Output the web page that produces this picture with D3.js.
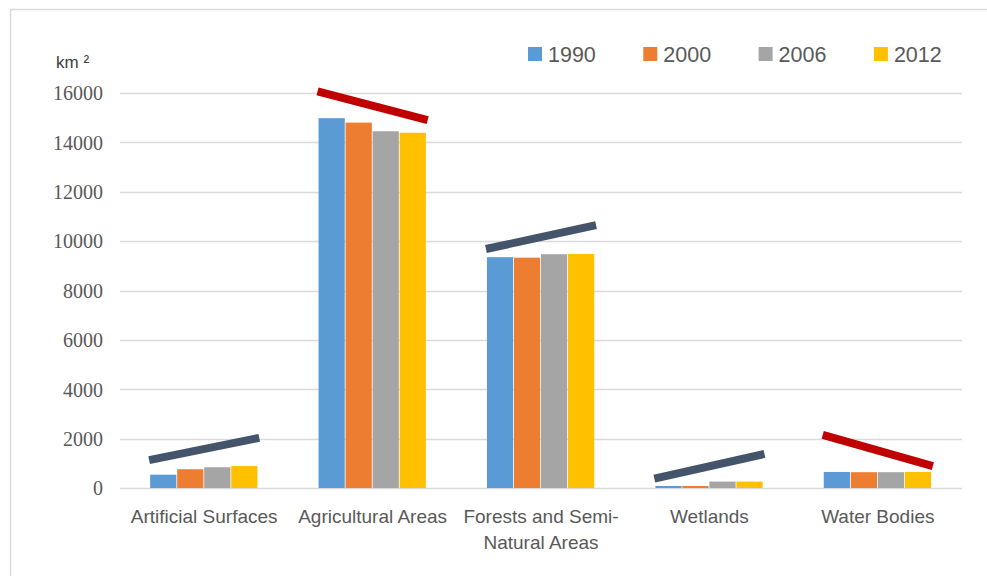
<!DOCTYPE html>
<html><head><meta charset="utf-8">
<script src="https://cdn.jsdelivr.net/npm/d3@7"></script>
<style>
html,body{margin:0;padding:0;background:#fff;}
svg{display:block;}
</style></head>
<body>
<svg id="chart" width="987" height="576"></svg>
<script>
const categories = ["Artificial Surfaces", "Agricultural Areas", "Forests and Semi-Natural Areas", "Wetlands", "Water Bodies"];
const categoryLines = [["Artificial Surfaces"], ["Agricultural Areas"], ["Forests and Semi-", "Natural Areas"], ["Wetlands"], ["Water Bodies"]];
const years = ["1990", "2000", "2006", "2012"];
const values1990 = [540, 14980, 9350, 80, 650];
const values2000 = [760, 14800, 9330, 80, 640];
const values2006 = [840, 14450, 9470, 260, 640];
const values2012 = [890, 14390, 9480, 260, 650];
const trendStart = [1130, 16070, 9680, 380, 2150];
const trendEnd = [2030, 14900, 10650, 1380, 890];
const yTicks = [0, 2000, 4000, 6000, 8000, 10000, 12000, 14000, 16000];
const yUnit = "km ²";
const colors = ["#5B9BD5", "#ED7D31", "#A5A5A5", "#FFC000"];

const series = [values1990, values2000, values2006, values2012];
const svg = d3.select("#chart");
const sans = "'Liberation Sans', Arial, sans-serif";

// outer border
svg.append("rect").attr("x", 10.5).attr("y", 9.5).attr("width", 990).attr("height", 600)
  .attr("fill", "none").attr("stroke", "#D9D9D9").attr("stroke-width", 1.5);

const x0 = d3.scaleBand().domain(categories).range([120, 962]).paddingInner(0).paddingOuter(0);
const groupFrac = 0.642;
const x1 = d3.scaleBand().domain(years).range([0, x0.bandwidth() * groupFrac]);
const y = d3.scaleLinear().domain([0, 16000]).range([488, 93]);

// gridlines
svg.append("g").selectAll("line").data(yTicks).join("line")
  .attr("x1", 120).attr("x2", 962)
  .attr("y1", d => Math.round(y(d)) + 0.5).attr("y2", d => Math.round(y(d)) + 0.5)
  .attr("stroke", "#D9D9D9").attr("stroke-width", 1.5);

// y axis labels
const yAxis = d3.axisLeft(y).tickValues(yTicks).tickSize(0).tickPadding(0).tickFormat(d3.format("d"));
const yg = svg.append("g").attr("transform", "translate(103,0)").call(yAxis);
yg.select(".domain").remove();
yg.selectAll("text").attr("font-family", "'Liberation Serif', 'Times New Roman', serif")
  .attr("font-size", 20).attr("fill", "#595959").attr("dy", "0.34em");

svg.append("text").attr("x", 56).attr("y", 68).text(yUnit)
  .attr("font-family", sans).attr("font-size", 17).attr("fill", "#404040");

// bars
const groupOffset = x0.bandwidth() * (1 - groupFrac) / 2;
const gGroups = svg.append("g").selectAll("g").data(categories).join("g")
  .attr("transform", c => `translate(${x0(c) + groupOffset},0)`);
gGroups.selectAll("rect").data((c, i) => years.map((yr, j) => ({yr, v: series[j][i], j})))
  .join("rect")
  .attr("x", d => x1(d.yr))
  .attr("width", x1.bandwidth() - 0.8)
  .attr("y", d => y(d.v))
  .attr("height", d => y(0) - y(d.v))
  .attr("fill", d => colors[d.j]);

// trend lines
svg.append("g").selectAll("line").data(categories).join("line")
  .attr("x1", (c) => x0(c) + groupOffset - 1)
  .attr("x2", (c) => x0(c) + groupOffset + x1.range()[1] + 1)
  .attr("y1", (c, i) => y(trendStart[i]))
  .attr("y2", (c, i) => y(trendEnd[i]))
  .attr("stroke", (c, i) => trendEnd[i] >= trendStart[i] ? "#44546A" : "#C00000")
  .attr("stroke-width", 8);

// x labels
const xl = svg.append("g").selectAll("text").data(categories).join("text")
  .attr("x", c => x0(c) + x0.bandwidth() / 2)
  .attr("y", 523)
  .attr("text-anchor", "middle")
  .attr("font-family", sans).attr("font-size", 19).attr("fill", "#595959");
xl.selectAll("tspan").data((c, i) => categoryLines[i]).join("tspan")
  .attr("x", function() { return d3.select(this.parentNode).attr("x"); })
  .attr("dy", (d, k) => k === 0 ? 0 : 26)
  .text(d => d);

// legend
const leg = svg.append("g").selectAll("g").data(years).join("g")
  .attr("transform", (d, i) => `translate(${528 + i * 115.3},47)`);
leg.append("rect").attr("width", 14).attr("height", 14).attr("fill", (d, i) => colors[i]);
leg.append("text").attr("x", 20).attr("y", 14.5).text(d => d)
  .attr("font-family", sans).attr("font-size", 21.5).attr("fill", "#595959");
</script>
</body></html>
